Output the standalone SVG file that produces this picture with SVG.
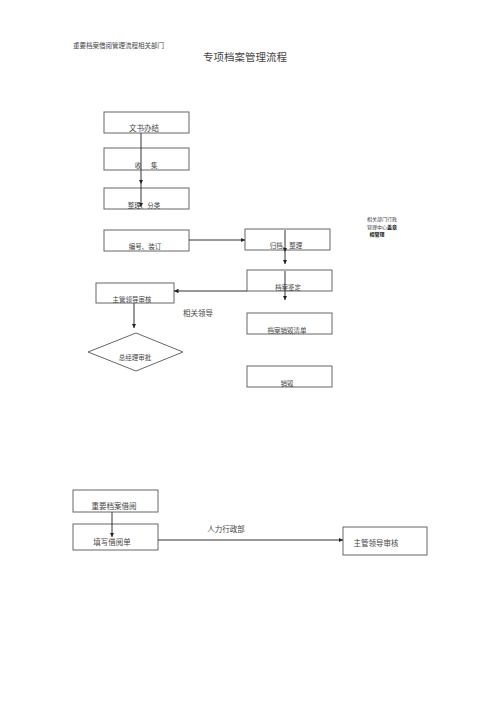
<svg xmlns="http://www.w3.org/2000/svg" width="500" height="707" viewBox="0 0 500 707">
<defs>
<marker id="ah" viewBox="0 0 8 8" refX="8" refY="4" markerWidth="4.5" markerHeight="4.5" orient="auto" markerUnits="userSpaceOnUse">
<path d="M0,0 L8,4 L0,8 Z" fill="#222"/>
</marker>
<style>
.box{fill:#fff;stroke:#666;stroke-width:1}
.t{font-family:"Liberation Serif","Noto Sans CJK SC",serif;fill:#444;font-size:7.5px;text-anchor:middle}
.s{font-size:6.5px}
.ln{stroke:#333;stroke-width:1;fill:none}
</style>
</defs>
<rect width="500" height="707" fill="#fff"/>
<text class="t s" x="73" y="48" style="text-anchor:start">重要档案借阅管理流程相关部门</text>
<text class="t" x="245" y="61" style="font-size:10.5px">专项档案管理流程</text>

<g id="n1"><rect class="box" x="104" y="112" width="85" height="21"/><text class="t" x="144" y="131">文书办结</text></g>
<g id="n2"><rect class="box" x="104" y="148" width="85" height="22"/><text class="t s" x="146" y="168" xml:space="preserve">收　  集</text></g>
<g id="n3"><rect class="box" x="104" y="188" width="85" height="21"/><text class="t s" x="144" y="208">整理、分类</text></g>
<g id="n4"><rect class="box" x="104" y="230" width="85" height="21"/><text class="t s" x="145" y="249">编号、装订</text></g>
<g id="n5"><rect class="box" x="245" y="229" width="85" height="21"/><text class="t s" x="286" y="248">归档、整理</text></g>
<g id="n6"><rect class="box" x="247" y="270" width="85" height="21"/><text class="t s" x="288" y="290">档案鉴定</text></g>
<g id="n7"><rect class="box" x="96" y="283" width="78" height="20"/><text class="t s" x="132" y="302">主管领导审核</text></g>
<g id="n8"><polygon class="box" points="88,352 136,333 183,352 136,371"/><text class="t s" x="135" y="360">总经理审批</text></g>
<g id="n9"><rect class="box" x="247" y="313" width="85" height="21"/><text class="t s" x="287" y="333">档案销毁清单</text></g>
<g id="n10"><rect class="box" x="247" y="366" width="85" height="21"/><text class="t s" x="287" y="386">销毁</text></g>
<g id="n11"><rect class="box" x="73" y="490" width="85" height="22"/><text class="t" x="114" y="509">重要档案借阅</text></g>
<g id="n12"><rect class="box" x="73" y="524" width="85" height="26"/><text class="t" x="112" y="545">填写借阅单</text></g>
<g id="n13"><rect class="box" x="343" y="527" width="84" height="28"/><text class="t" x="376" y="546">主管领导审核</text></g>

<g id="labels">
<text class="t" x="198" y="316">相关领导</text>
<text class="t" x="226" y="532">人力行政部</text>
<text class="t" x="382" y="221" style="font-size:5px">相关部门行政</text>
<text class="t" x="382" y="229" style="font-size:5px">管理中心<tspan font-weight="bold" fill="#111">盖章</tspan></text>
<text class="t" x="377" y="236" style="font-size:5px;font-weight:bold;fill:#111">相管理</text>
</g>

<g id="connectors">
<line class="ln" x1="141" y1="133" x2="141" y2="148"/>
<line class="ln" x1="141" y1="148" x2="141" y2="184" marker-end="url(#ah)"/>
<line class="ln" x1="141" y1="184" x2="141" y2="207" marker-end="url(#ah)"/>
<line class="ln" x1="189" y1="240" x2="245" y2="240" marker-end="url(#ah)"/>
<line class="ln" x1="285" y1="230" x2="285" y2="252" marker-end="url(#ah)"/>
<line class="ln" x1="285" y1="252" x2="285" y2="264" marker-end="url(#ah)"/>
<line class="ln" x1="285" y1="271" x2="285" y2="300" marker-end="url(#ah)"/>
<line class="ln" x1="247" y1="291" x2="174" y2="291" marker-end="url(#ah)"/>
<line class="ln" x1="134" y1="303" x2="134" y2="328" marker-end="url(#ah)"/>
<line class="ln" x1="112" y1="512" x2="112" y2="537" marker-end="url(#ah)"/>
<line class="ln" x1="158" y1="540" x2="343" y2="540" marker-end="url(#ah)"/>
</g>
</svg>
